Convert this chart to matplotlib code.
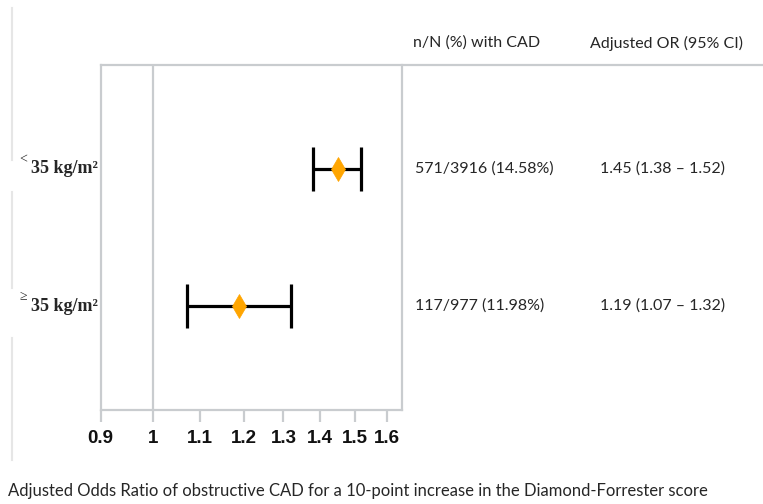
import matplotlib
matplotlib.use("Agg")
import matplotlib.pyplot as plt
from matplotlib.ticker import FixedLocator, FixedFormatter, NullLocator
from matplotlib.transforms import blended_transform_factory
from matplotlib.lines import Line2D

# ---- data ----
group_symbols = ["<", "≥"]
group_labels = ["35 kg/m²", "35 kg/m²"]
odds_ratio = [1.45, 1.19]
ci_low = [1.38, 1.07]
ci_high = [1.52, 1.32]
n_cad = ["571/3916 (14.58%)", "117/977 (11.98%)"]
or_text = ["1.45 (1.38 – 1.52)", "1.19 (1.07 – 1.32)"]
xticks = [0.9, 1.0, 1.1, 1.2, 1.3, 1.4, 1.5, 1.6]
xtick_labels = ["0.9", "1", "1.1", "1.2", "1.3", "1.4", "1.5", "1.6"]
header_n = "n/N (%) with CAD"
header_or = "Adjusted OR (95% CI)"
caption = "Adjusted Odds Ratio of obstructive CAD for a 10-point increase in the Diamond-Forrester score"

W, H = 763, 504
fig = plt.figure(figsize=(W / 100, H / 100), dpi=100)
fig.patch.set_facecolor("white")

grey = "#c9cccf"
ax = fig.add_axes([100.5 / W, 1 - 410 / H, (402 - 100.5) / W, (410 - 65) / H])
ax.set_xscale("log")
ax.set_xlim(0.9, 1.65)
rows = list(range(len(odds_ratio)))
ax.set_ylim(1.759, -0.759)

for r in rows:
    ax.errorbar(odds_ratio[r], r,
                xerr=[[odds_ratio[r] - ci_low[r]], [ci_high[r] - odds_ratio[r]]],
                fmt="none", ecolor="black", elinewidth=2.3, capsize=15.5,
                capthick=2.3, zorder=3)
ax.plot(odds_ratio, rows, linestyle="none", marker="d", markersize=12,
        markeredgewidth=0.5,
        markerfacecolor="#FFA500", markeredgecolor="#FFA500", zorder=4)

ax.axvline(1.0, color=grey, lw=1.6, zorder=1)

for side in ["left", "right", "bottom"]:
    ax.spines[side].set_color(grey)
    ax.spines[side].set_linewidth(1.6)
ax.spines["top"].set_visible(False)

ax.yaxis.set_major_locator(NullLocator())
ax.yaxis.set_minor_locator(NullLocator())
ax.xaxis.set_major_locator(FixedLocator(xticks))
ax.xaxis.set_major_formatter(FixedFormatter(xtick_labels))
ax.xaxis.set_minor_locator(NullLocator())
ax.tick_params(axis="x", direction="out", length=8.6, width=1.6, color=grey,
               pad=6, labelsize=13.5)
for lab in ax.get_xticklabels():
    lab.set_fontfamily(["Liberation Sans", "DejaVu Sans"])
    lab.set_fontweight("bold")
    lab.set_color("#111111")

# top line extending across the full width
fig.add_artist(Line2D([100.5 / W, 1.0], [1 - 65 / H, 1 - 65 / H],
                      transform=fig.transFigure, color=grey, lw=1.6))

# faint left border artefacts
for y0, y1 in [(8, 160), (192, 288), (338, 460)]:
    fig.add_artist(Line2D([12 / W, 12 / W], [1 - y0 / H, 1 - y1 / H],
                          transform=fig.transFigure, color="#e6e6e6", lw=1.5))

trans = blended_transform_factory(fig.transFigure, ax.transData)
sans = ["Lato", "DejaVu Sans"]
serif = ["Liberation Serif", "DejaVu Serif"]
txt = "#262626"

for r in rows:
    ax.text(19 / W, r - 0.07, group_symbols[r], transform=trans, fontsize=10,
            family=serif, ha="left", va="center", clip_on=False, color=txt)
    ax.text(31 / W, r, group_labels[r], transform=trans, fontsize=13,
            family=serif, fontweight="bold", ha="left", va="center",
            clip_on=False, color=txt)
    ax.text(415 / W, r, n_cad[r], transform=trans, fontsize=11.5,
            family=sans, ha="left", va="center", clip_on=False, color=txt)
    ax.text(600 / W, r, or_text[r], transform=trans, fontsize=11.5,
            family=sans, ha="left", va="center", clip_on=False, color=txt)

fig.text(413 / W, 1 - 43 / H, header_n, fontsize=11.5, family=sans,
         ha="left", va="center", color=txt)
fig.text(590 / W, 1 - 43 / H, header_or, fontsize=11.5, family=sans,
         ha="left", va="center", color=txt)
fig.text(8 / W, 1 - 491 / H, caption, fontsize=12, family=sans,
         ha="left", va="center", color=txt)

fig.savefig("out.png", dpi=100, facecolor="white")
